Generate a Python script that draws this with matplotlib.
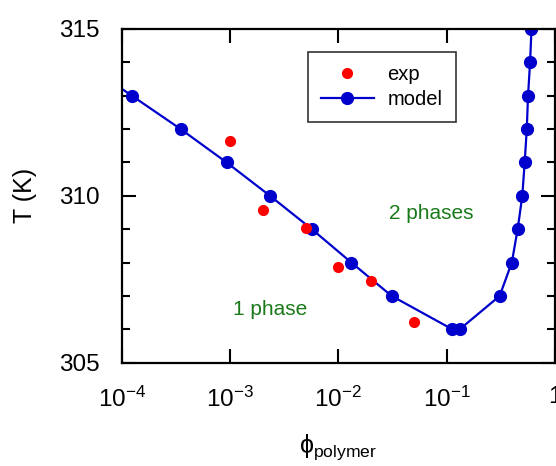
#!/usr/bin/env python3

import numpy as np
import matplotlib
matplotlib.use('Agg')
import matplotlib.pyplot as plt
from matplotlib.ticker import MultipleLocator, LogLocator, FuncFormatter

plt.rcParams['font.family'] = ['Liberation Sans', 'DejaVu Sans']
plt.rcParams['mathtext.fontset'] = 'custom'
plt.rcParams['mathtext.rm'] = 'Liberation Sans'
plt.rcParams['mathtext.it'] = 'Liberation Sans'

# experimental cloud points
exp_phi = [1e-3, 2e-3, 5e-3, 1e-2, 2e-2, 5e-2]
exp_T = [311.63, 309.58, 309.05, 307.87, 307.46, 306.21]

# model binodal
model_phi = [4.4e-5, 1.24e-4, 3.5e-4, 9.3e-4, 2.34e-3, 5.7e-3, 1.32e-2, 3.11e-2,
             0.113, 0.132, 0.309, 0.40, 0.453, 0.50, 0.526, 0.55, 0.565, 0.59, 0.608]
model_T = [314, 313, 312, 311, 310, 309, 308, 307,
           306, 306, 307, 308, 309, 310, 311, 312, 313, 314, 315]

blue = '#0000cc'
green = '#1a7a1a'


def decade(x, pos):
	n = int(round(np.log10(x)))
	if n == 0:
		return '1'
	return r'$10^{\mathrm{%d}}$' % n


fig = plt.figure(figsize=(5.56, 4.66), dpi=100)
ax = fig.add_axes([0.219, 0.2217, 0.779, 0.7161])

ax.plot(model_phi, model_T, '-o', color=blue, lw=1.6, ms=8.5, label='model')
ax.plot(exp_phi, exp_T, 'o', color='red', ms=7, ls='none', label='exp')

ax.set_xscale('log')
ax.set_xlim(1e-4, 1)
ax.set_ylim(305, 315)
ax.xaxis.set_major_locator(LogLocator(base=10, numticks=10))
ax.xaxis.set_minor_locator(LogLocator(base=10, subs=[], numticks=10))
ax.xaxis.set_major_formatter(FuncFormatter(decade))
ax.yaxis.set_major_locator(MultipleLocator(5))
ax.yaxis.set_minor_locator(MultipleLocator(1))

ax.tick_params(which='both', direction='in', top=True, right=True,
               width=1.5, labelsize=17.5)
ax.tick_params(axis='x', pad=17)
ax.tick_params(axis='y', pad=16)
ax.tick_params(which='major', length=10)
ax.tick_params(which='minor', length=6)
for s in ax.spines.values():
	s.set_linewidth(1.6)

ax.set_xlabel(r'$\mathrm{\phi}_{\mathrm{polymer}}$', fontsize=18, labelpad=15)
ax.set_ylabel('T (K)', fontsize=18, labelpad=16)

ax.text(0.342, 0.158, '1 phase', transform=ax.transAxes, fontsize=15,
        color=green, ha='center', va='center')
ax.text(0.715, 0.448, '2 phases', transform=ax.transAxes, fontsize=15,
        color=green, ha='center', va='center')

handles, labels = ax.get_legend_handles_labels()
leg = ax.legend(handles[::-1], labels[::-1], loc='upper right',
                bbox_to_anchor=(0.771, 0.931), fontsize=14.5, frameon=True,
                fancybox=False, edgecolor='black', handlelength=2.6,
                handletextpad=0.7, borderpad=0.65, labelspacing=0.3,
                borderaxespad=0)
leg.get_frame().set_linewidth(1.2)

fig.savefig('out.png', dpi=100)
